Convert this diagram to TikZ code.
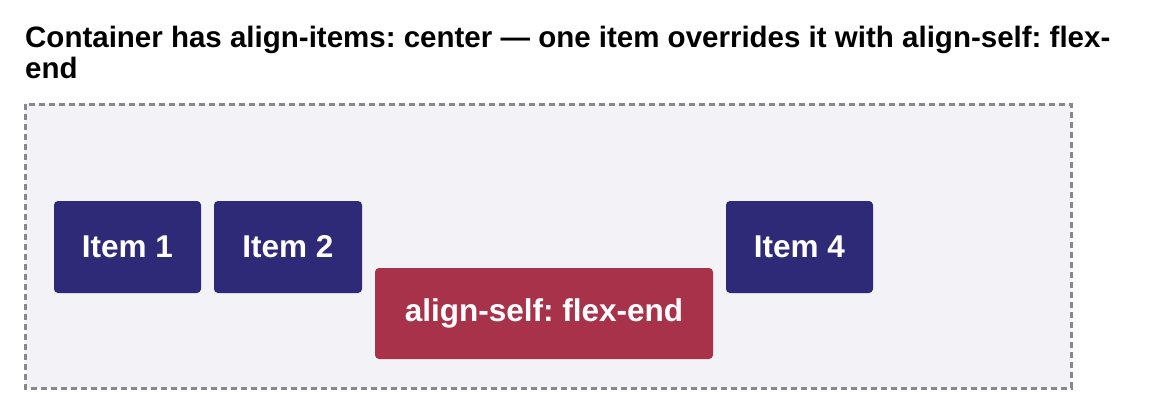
\documentclass[tikz,border=0pt]{standalone}
\usepackage{fontspec}
\setmainfont{Liberation Sans}
\begin{document}
\frenchspacing
\begin{tikzpicture}[x=1pt,y=-1pt,
  item/.style={draw=none,rounded corners=4pt},
  lab/.style={text=white,font=\bfseries\fontsize{31.5}{36}\selectfont,inner sep=0pt},
  navy/.style={item,fill={rgb,255:red,46;green,42;blue,120}},
  redb/.style={item,fill={rgb,255:red,168;green,50;blue,74}},
  title/.style={anchor=base west,inner sep=0pt,font=\bfseries\fontsize{29.5}{34}\selectfont}]
\useasboundingbox (0,0) rectangle (1152,415);
\fill[white] (0,0) rectangle (1152,415);
\node[title] (t1) at (25,47) {Container has align-items: center — one item overrides it with align-self: flex-};
\node[title] (t2) at (25,78) {end};
\draw[line width=3pt,dash pattern=on 6pt off 4pt,draw={rgb,255:red,136;green,136;blue,140},fill={rgb,255:red,243;green,242;blue,247}] (25,104) rectangle (1071,388);
\path[navy] (54,201) rectangle (201,293) node[pos=.5,lab] (i1) {Item 1};
\path[navy] (214,201) rectangle (362,293) node[pos=.5,lab] (i2) {Item 2};
\path[redb] (375,268) rectangle (713,359) node[pos=.5,lab] (i3) {align-self: flex-end};
\path[navy] (726,201) rectangle (873,293) node[pos=.5,lab] (i4) {Item 4};
\end{tikzpicture}
\end{document}
